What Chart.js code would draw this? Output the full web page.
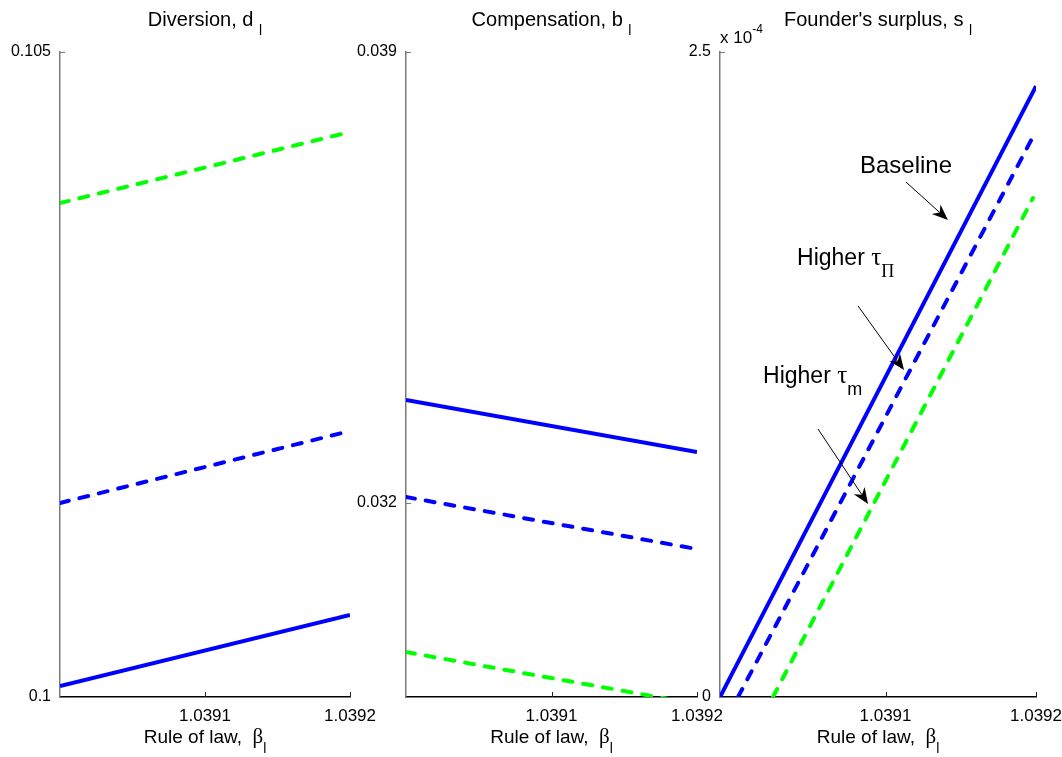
<!DOCTYPE html>
<html>
<head>
<meta charset="utf-8">
<script src="https://cdn.jsdelivr.net/npm/chart.js@4.4.1/dist/chart.umd.min.js"></script>
<style>
  html, body { margin: 0; padding: 0; background: #ffffff; }
  #wrap { position: relative; width: 1062px; height: 757px; background: #ffffff; }
  canvas { position: absolute; left: 0; top: 0; }
</style>
</head>
<body>
<div id="wrap">
  <canvas id="c1" width="1062" height="757"></canvas>
  <canvas id="c2" width="1062" height="757"></canvas>
  <canvas id="c3" width="1062" height="757"></canvas>
</div>
<script>
// ---------- DATA ----------
const xTickValues = [1.0391, 1.0392];

// Panel 1: Diversion d_l
const divX = [1.0390, 1.0392];
const divBaseline   = [0.100085, 0.100636];
const divHigherTauPi = [0.101504, 0.102062];
const divHigherTauM  = [0.103829, 0.104380];
const divYTicks = [0.1, 0.105];

// Panel 2: Compensation b_l
const compX = [1.0390, 1.0392];
const compBaseline    = [0.033599, 0.032792];
const compHigherTauPi = [0.032093, 0.031286];
const compHigherTauM  = [0.029687, 0.028880];
const compYTicks = [0.032, 0.039];

// Panel 3: Founder's surplus s_l
const surpBaselineX    = [1.0389900, 1.0392000];
const surpBaseline     = [0.0, 2.368e-4];
const surpHigherTauPiX = [1.0390020, 1.0392000];
const surpHigherTauPi  = [0.0, 2.194e-4];
const surpHigherTauMX  = [1.0390252, 1.0391980];
const surpHigherTauM   = [0.0, 1.934e-4];
const surpYTicks = [0, 2.5e-4];

// Annotations (data coords of panel 3)
const annBaselineText = { x: 1.0390830, y: 2.031e-4 };
const annBaselineArrow = { x1: 1.0391136, y1: 1.996e-4, x2: 1.0391415, y2: 1.849e-4 };
const annTauPiText = { x: 1.0390412, y: 1.674e-4 };
const annTauPiArrow = { x1: 1.0390817, y1: 1.516e-4, x2: 1.0391123, y2: 1.267e-4 };
const annTauMText = { x: 1.0390186, y: 1.217e-4 };
const annTauMArrow = { x1: 1.0390551, y1: 1.039e-4, x2: 1.0390884, y2: 0.748e-4 };

// ---------- STYLE ----------
const SANS = '"Liberation Sans", Arial, Helvetica, sans-serif';
const SERIF = '"Liberation Serif", "DejaVu Serif", serif';
const BLUE = '#0000ff';
const GREEN = '#00ff00';
const W = 1062, H = 757;
const TOP = 52, BOTTOM = 697;

function pts(xs, ys) { return xs.map((x, i) => ({ x: x, y: ys[i] })); }

function ds(data, color, dashed) {
  return {
    data: data,
    borderColor: color,
    backgroundColor: color,
    borderWidth: 4,
    borderDash: dashed ? [9, 11] : [],
    borderCapStyle: dashed ? 'round' : 'butt',
    pointRadius: 0,
    tension: 0,
    fill: false,
    clip: 0
  };
}

function drawRich(ctx, segs, x, y, align) {
  let total = 0;
  segs.forEach(s => {
    ctx.font = (s.size) + 'px ' + (s.family || SANS);
    s.w = ctx.measureText(s.t).width;
    total += s.w + (s.dx || 0);
  });
  let cx = align === 'center' ? x - total / 2 : x;
  ctx.textBaseline = 'alphabetic';
  ctx.textAlign = 'left';
  ctx.fillStyle = '#000';
  segs.forEach(s => {
    cx += (s.dx || 0);
    ctx.font = (s.size) + 'px ' + (s.family || SANS);
    ctx.fillText(s.t, cx, y + (s.dy || 0));
    cx += s.w;
  });
}

function drawArrow(ctx, x1, y1, x2, y2) {
  ctx.save();
  ctx.strokeStyle = '#000';
  ctx.fillStyle = '#000';
  ctx.lineWidth = 1;
  const ang = Math.atan2(y2 - y1, x2 - x1);
  const len = 16, hw = 6.5, notch = 5;
  const c = Math.cos(ang), s = Math.sin(ang);
  const bx = x2 - len * c, by = y2 - len * s;
  const nx = x2 - (len - notch) * c, ny = y2 - (len - notch) * s;
  ctx.beginPath();
  ctx.moveTo(x1, y1);
  ctx.lineTo(nx, ny);
  ctx.stroke();
  ctx.beginPath();
  ctx.moveTo(x2, y2);
  ctx.lineTo(bx + hw * s, by - hw * c);
  ctx.lineTo(nx, ny);
  ctx.lineTo(bx - hw * s, by + hw * c);
  ctx.closePath();
  ctx.fill();
  ctx.restore();
}

const decorPlugin = {
  id: 'decor',
  afterDraw(chart, args, opts) {
    const ctx = chart.ctx;
    const a = chart.chartArea;
    const xs = chart.scales.x, ys = chart.scales.y;
    ctx.save();
    // inward tick marks
    ctx.lineWidth = 1;
    ctx.strokeStyle = '#7a7a7a';
    ys.ticks.forEach(t => {
      const py = Math.round(ys.getPixelForValue(t.value)) + 0.5;
      ctx.beginPath(); ctx.moveTo(a.left, py); ctx.lineTo(a.left + 5, py); ctx.stroke();
    });
    ctx.strokeStyle = '#222';
    xs.ticks.forEach(t => {
      const px = Math.round(xs.getPixelForValue(t.value)) + 0.5;
      ctx.beginPath(); ctx.moveTo(px, a.bottom); ctx.lineTo(px, a.bottom - 5); ctx.stroke();
    });
    const cx = (a.left + a.right) / 2;
    // title
    drawRich(ctx, [
      { t: opts.title + ' ', size: 20 },
      { t: opts.sub, size: 14, dy: 9 }
    ], cx, 26, 'center');
    // x axis title
    drawRich(ctx, [
      { t: 'Rule of law,  ', size: 19 },
      { t: 'β', size: 21, family: SERIF },
      { t: 'l', size: 14, dy: 10 }
    ], cx, 743, 'center');
    // exponent
    if (opts.exponent) {
      drawRich(ctx, [
        { t: 'x 10', size: 17 },
        { t: '-4', size: 12, dy: -10 }
      ], a.left, 43, 'left');
    }
    // annotations
    if (opts.annotations) {
      const P = (p) => [xs.getPixelForValue(p.x), ys.getPixelForValue(p.y)];
      let p = P(annBaselineText);
      drawRich(ctx, [{ t: 'Baseline', size: 24 }], p[0], p[1], 'left');
      p = P(annTauPiText);
      drawRich(ctx, [
        { t: 'Higher ', size: 23 },
        { t: 'τ', size: 25, family: SERIF },
        { t: 'Π', size: 18, family: SERIF, dy: 12 }
      ], p[0], p[1], 'left');
      p = P(annTauMText);
      drawRich(ctx, [
        { t: 'Higher ', size: 23 },
        { t: 'τ', size: 25, family: SERIF },
        { t: 'm', size: 18, dy: 12 }
      ], p[0], p[1], 'left');
      [annBaselineArrow, annTauPiArrow, annTauMArrow].forEach(ar => {
        drawArrow(ctx, xs.getPixelForValue(ar.x1), ys.getPixelForValue(ar.y1),
                       xs.getPixelForValue(ar.x2), ys.getPixelForValue(ar.y2));
      });
    }
    ctx.restore();
  }
};

function makeChart(id, cfg) {
  const L = cfg.left, R = cfg.right;
  return new Chart(document.getElementById(id), {
    type: 'line',
    data: { datasets: cfg.datasets },
    options: {
      responsive: false,
      animation: false,
      devicePixelRatio: 1,
      layout: { padding: { top: TOP, right: W - R, left: 0, bottom: 0 } },
      plugins: {
        legend: { display: false },
        tooltip: { enabled: false },
        decor: { title: cfg.title, sub: 'l', exponent: cfg.exponent, annotations: cfg.annotations }
      },
      scales: {
        x: {
          type: 'linear',
          min: cfg.xmin, max: cfg.xmax,
          afterBuildTicks: s => { s.ticks = xTickValues.map(v => ({ value: v })); },
          afterFit: s => { s.height = H - BOTTOM; s.paddingLeft = 0; s.paddingRight = 0; },
          grid: { display: false, drawTicks: false },
          border: { display: true, color: '#000', width: 1.5 },
          ticks: {
            autoSkip: false, maxRotation: 0, padding: 9,
            color: '#000', font: { family: SANS, size: 17 },
            callback: v => Number(v).toFixed(4)
          }
        },
        y: {
          type: 'linear',
          min: cfg.ymin, max: cfg.ymax,
          afterBuildTicks: s => { s.ticks = cfg.yTicks.map(v => ({ value: v })); },
          afterFit: s => { s.width = L; s.paddingTop = 0; s.paddingBottom = 0; },
          grid: { display: false, drawTicks: false },
          border: { display: true, color: '#7a7a7a', width: 1.5 },
          ticks: {
            autoSkip: false, padding: 9,
            color: '#000', font: { family: SANS, size: 16 },
            callback: cfg.yFmt
          }
        }
      }
    },
    plugins: [decorPlugin]
  });
}

makeChart('c1', {
  left: 60, right: 350, xmin: 1.0390, xmax: 1.0392,
  ymin: 0.1, ymax: 0.105, yTicks: divYTicks,
  yFmt: v => String(Number(v.toFixed(4))),
  title: 'Diversion, d',
  datasets: [
    ds(pts(divX, divHigherTauM), GREEN, true),
    ds(pts(divX, divHigherTauPi), BLUE, true),
    ds(pts(divX, divBaseline), BLUE, false)
  ]
});

makeChart('c2', {
  left: 406, right: 697, xmin: 1.0390, xmax: 1.0392,
  ymin: 0.02899, ymax: 0.039, yTicks: compYTicks,
  yFmt: v => String(Number(v.toFixed(4))),
  title: 'Compensation, b',
  datasets: [
    ds(pts(compX, compHigherTauM), GREEN, true),
    ds(pts(compX, compHigherTauPi), BLUE, true),
    ds(pts(compX, compBaseline), BLUE, false)
  ]
});

makeChart('c3', {
  left: 720, right: 1036, xmin: 1.038990, xmax: 1.039200,
  ymin: 0, ymax: 2.5e-4, yTicks: surpYTicks,
  yFmt: v => String(Number((v * 1e4).toFixed(2))),
  title: "Founder's surplus, s",
  exponent: true, annotations: true,
  datasets: [
    ds(pts(surpHigherTauMX, surpHigherTauM), GREEN, true),
    ds(pts(surpHigherTauPiX, surpHigherTauPi), BLUE, true),
    ds(pts(surpBaselineX, surpBaseline), BLUE, false)
  ]
});
</script>
</body>
</html>
